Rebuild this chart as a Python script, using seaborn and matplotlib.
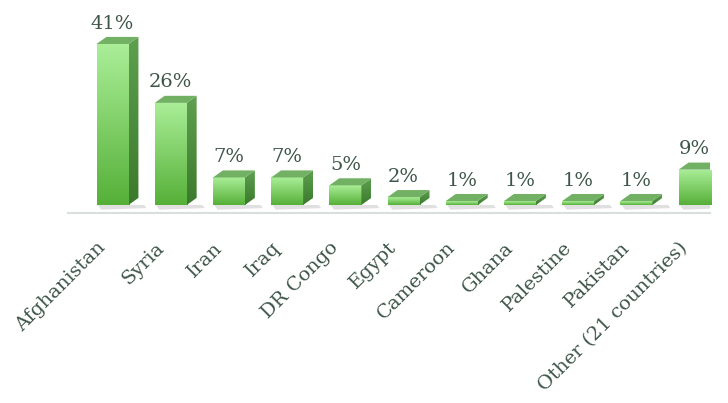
import numpy as np
import pandas as pd
import seaborn as sns
import matplotlib.pyplot as plt
import matplotlib.transforms as mtransforms
from matplotlib.patches import Polygon
from matplotlib.colors import LinearSegmentedColormap

countries = ["Afghanistan", "Syria", "Iran", "Iraq", "DR Congo", "Egypt",
             "Cameroon", "Ghana", "Palestine", "Pakistan", "Other (21 countries)"]
shares = [41, 26, 7, 7, 5, 2, 1, 1, 1, 1, 9]

data = pd.DataFrame({"country": countries, "share": shares})

sns.set_theme(style="white")
plt.rcParams['font.family'] = ['DejaVu Serif', 'DejaVu Sans']
text_col = "#3e5549"

fig = plt.figure(figsize=(7.28, 4.03), dpi=100)
ax = fig.add_axes([0.093, 0.4715, 0.882, 0.5285])

sns.barplot(data=data, x="country", y="share", color="#7ccf63", width=0.55,
            ax=ax, saturation=1)

ax.set_xlim(-0.77, 10.26)
ax.set_ylim(-2.04, 52.2)

# fake 3D: depth offsets
dx, dy = 0.17, 1.8
front_cmap = LinearSegmentedColormap.from_list("front", ["#56b038", "#aaee98"])
side_cmap = LinearSegmentedColormap.from_list("side", ["#3b7a2c", "#5e9f50"])
grad = np.linspace(0, 1, 100).reshape(-1, 1)

for p, v in zip(ax.patches, shares):
    x0 = p.get_x()
    w = p.get_width()
    h = max(p.get_height(), 0.6)
    p.set_height(h)
    p.set_edgecolor("none")
    # soft shadow
    ax.add_patch(Polygon([[x0 + 0.02, 0], [x0 + w + dx + 0.1, 0], [x0 + w + dx + 0.14, -0.8],
                          [x0 + 0.08, -1.2]], closed=True, facecolor="#d4d4d4",
                         edgecolor="none", alpha=0.7, zorder=1))
    im = ax.imshow(grad, cmap=front_cmap, aspect="auto", origin="lower",
                   extent=[x0, x0 + w, 0, h], zorder=3)
    im.set_clip_path(p)
    side = Polygon([[x0 + w, 0], [x0 + w + dx, dy], [x0 + w + dx, h + dy], [x0 + w, h]],
                   closed=True, facecolor="none", edgecolor="none", zorder=3)
    ax.add_patch(side)
    ims = ax.imshow(grad, cmap=side_cmap, aspect="auto", origin="lower",
                    extent=[x0 + w, x0 + w + dx, 0, h + dy], zorder=3)
    ims.set_clip_path(side)
    top = Polygon([[x0, h], [x0 + dx, h + dy], [x0 + w + dx, h + dy], [x0 + w, h]],
                  closed=True, facecolor="#72b064", edgecolor="none", zorder=3)
    ax.add_patch(top)
    ax.annotate(f"{v}%", (x0 + w / 2, h + dy), xytext=(0, 6),
                textcoords="offset points", ha="center", va="baseline",
                fontsize=14, color=text_col)

ax.set_xlabel("")
ax.set_ylabel("")
ax.set_yticks([])
for s in ["top", "right", "left"]:
    ax.spines[s].set_visible(False)
ax.spines["bottom"].set_color("#d9e0dc")
ax.spines["bottom"].set_linewidth(1.5)
ax.tick_params(axis="x", length=0, pad=4)
shift = mtransforms.ScaledTranslation(-0.16, -0.20, fig.dpi_scale_trans)
for lbl in ax.get_xticklabels():
    lbl.set_rotation(45)
    lbl.set_ha("right")
    lbl.set_rotation_mode("anchor")
    lbl.set_fontsize(14)
    lbl.set_color(text_col)
    lbl.set_transform(lbl.get_transform() + shift)

fig.savefig("out.png", dpi=100)
